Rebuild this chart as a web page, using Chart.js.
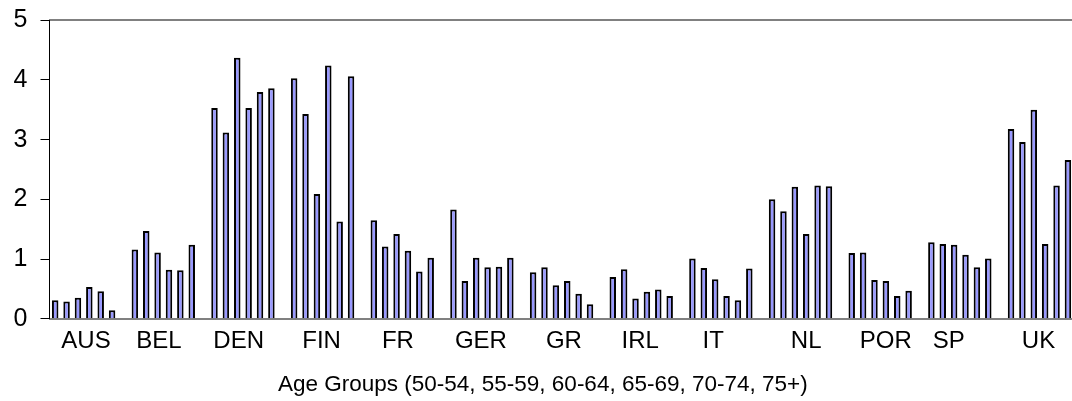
<!DOCTYPE html>
<html>
<head>
<meta charset="utf-8">
<script src="https://cdn.jsdelivr.net/npm/chart.js@4"></script>
<style>
  html, body { margin: 0; padding: 0; background: #fff; overflow: hidden; }
  #wrap { width: 1086px; height: 401px; }
</style>
</head>
<body>
<div id="wrap"><canvas id="grafico" width="1086" height="401"></canvas></div>
<script>
// paises (categorias)
const paises = ['AUS', 'BEL', 'DEN', 'FIN', 'FR', 'GER', 'GR', 'IRL', 'IT', 'NL', 'POR', 'SP', 'UK'];

// uma serie por faixa etaria
const idade50_54 = [0.31, 1.16, 3.53, 4.03, 1.65, 1.83, 0.78, 0.70, 1.01, 2.00, 1.10, 1.28, 3.18];
const idade55_59 = [0.29, 1.47, 3.12, 3.43, 1.21, 0.63, 0.86, 0.83, 0.85, 1.80, 1.11, 1.25, 2.96];
const idade60_64 = [0.35, 1.11, 4.37, 2.09, 1.42, 1.02, 0.56, 0.34, 0.66, 2.21, 0.65, 1.24, 3.50];
const idade65_69 = [0.53, 0.82, 3.53, 4.24, 1.14, 0.86, 0.63, 0.45, 0.38, 1.42, 0.63, 1.07, 1.25];
const idade70_74 = [0.46, 0.81, 3.80, 1.63, 0.79, 0.87, 0.42, 0.49, 0.31, 2.23, 0.38, 0.86, 2.23];
const idade75 = [0.14, 1.24, 3.86, 4.06, 1.02, 1.02, 0.24, 0.38, 0.84, 2.22, 0.47, 1.01, 2.66];

const faixas = ['50-54', '55-59', '60-64', '65-69', '70-74', '75+'];
const series = [idade50_54, idade55_59, idade60_64, idade65_69, idade70_74, idade75];

// marcas do eixo y
const ticksY = [0, 1, 2, 3, 4, 5];

// deslocamento dos rotulos do eixo x (em espacos; + direita, - esquerda)
const ajusteRotulo = [-1, -3, -3, -2, -3, -2, -1, -2, -4, 0, 0, -5, -2];

function rotulo(i) {
    const n = ajusteRotulo[i];
    const sp = ' '.repeat(Math.abs(n));
    return n >= 0 ? sp + paises[i] : paises[i] + sp;
}

const fonte = 'Arial, "Liberation Sans"';

const datasets = series.map((valores, i) => ({
    label: faixas[i],
    data: valores,
    backgroundColor: '#9999ff',
    borderColor: '#000000',
    borderWidth: 2,
    categoryPercentage: 1,
    barPercentage: 0.57
}));

// serie vazia: deixa o espaco entre os grupos de paises
datasets.push({
    label: '',
    data: paises.map(() => null),
    categoryPercentage: 1,
    barPercentage: 0.57
});

new Chart(document.getElementById('grafico'), {
    type: 'bar',
    data: { labels: paises, datasets: datasets },
    options: {
        responsive: false,
        animation: false,
        layout: { padding: { left: 0.6, right: 1, top: 10, bottom: 0 } },
        plugins: {
            legend: { display: false },
            tooltip: { enabled: false },
            title: {
                display: true,
                position: 'bottom',
                text: 'Age Groups (50-54, 55-59, 60-64, 65-69, 70-74, 75+)',
                color: '#000',
                font: { family: fonte, size: 22.5, weight: 'normal' },
                padding: { top: 7.5, bottom: 3 }
            }
        },
        scales: {
            x: {
                grid: { display: false, drawTicks: false },
                border: { color: '#808080', width: 2 },
                ticks: {
                    color: '#000',
                    font: { family: fonte, size: 24 },
                    padding: 8,
                    maxRotation: 0,
                    autoSkip: false,
                    callback: (v, i) => rotulo(i)
                }
            },
            // borda superior da area do grafico
            xTopo: {
                type: 'category',
                position: 'top',
                grid: { display: false, drawTicks: false },
                border: { color: '#808080', width: 2 },
                ticks: { display: false }
            },
            y: {
                min: 0,
                max: 5,
                afterBuildTicks: (eixo) => { eixo.ticks = ticksY.map(v => ({ value: v })); },
                border: { color: '#000', width: 1 },
                grid: {
                    drawOnChartArea: false,
                    tickColor: '#000',
                    tickWidth: 1,
                    tickLength: 9
                },
                ticks: {
                    color: '#000',
                    font: { family: fonte, size: 25, lineHeight: 0.58 },
                    padding: 13
                }
            }
        }
    }
});
</script>
</body>
</html>
